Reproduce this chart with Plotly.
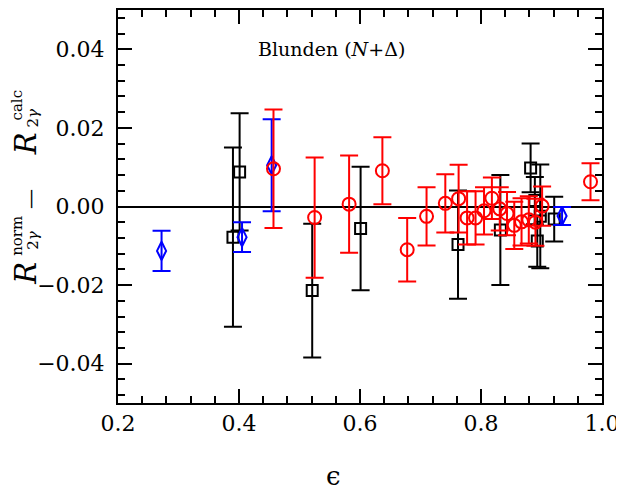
import plotly.graph_objects as go

# epsilon, residual and error for each data set
blue_eps = [0.272, 0.405, 0.454, 0.934]
blue_val = [-0.0113, -0.0078, 0.0105, -0.0024]
blue_err = [0.0051, 0.0038, 0.0117, 0.0023]

black_eps = [0.390, 0.401, 0.521, 0.601, 0.762, 0.832, 0.882, 0.889, 0.893, 0.898, 0.921]
black_val = [-0.0078, 0.0088, -0.0214, -0.0056, -0.0097, -0.0060, 0.0098, 0.0015, -0.0088, -0.0025, -0.0032]
black_err = [0.0228, 0.0149, 0.0170, 0.0157, 0.0138, 0.0140, 0.0062, 0.0060, 0.0065, 0.0132, 0.0057]

red_eps = [0.457, 0.525, 0.582, 0.637, 0.678, 0.710, 0.741, 0.763, 0.777, 0.791,
           0.805, 0.818, 0.831, 0.843, 0.855, 0.867, 0.879, 0.890, 0.901, 0.981]
red_val = [0.0096, -0.0028, 0.0006, 0.0091, -0.0110, -0.0025, 0.0008, 0.0020, -0.0029, -0.0029,
           -0.0011, 0.0021, -0.0006, -0.0018, -0.0048, -0.0039, -0.0034, -0.0040, 0.0001, 0.0063]
red_err = [0.0151, 0.0153, 0.0124, 0.0085, 0.0081, 0.0074, 0.0074, 0.0086, 0.0068, 0.0068,
           0.0060, 0.0053, 0.0055, 0.0055, 0.0060, 0.0060, 0.0060, 0.0060, 0.0050, 0.0047]

x_ticks = [0.2, 0.4, 0.6, 0.8, 1.0]
y_ticks = [-0.04, -0.02, 0.0, 0.02, 0.04]

# the page body has an 8px margin, so the figure is made smaller and
# everything is placed 8px up/left of where it sits in the reference
OFF = 8
W, H = 624 - OFF, 491 - OFF
ML, MR, MT, MB = 110, 22, 0, 88
FONT = "DejaVu Serif"


def px(x, y):
    # reference pixel position -> paper coordinates
    x, y = x - OFF, y - OFF
    return (x - ML) / (W - ML - MR), (H - MB - y) / (H - MT - MB)


def series(x, y, err, color, symbol, size):
    return go.Scatter(
        x=x, y=y, mode="markers",
        marker=dict(symbol=symbol, size=size, color=color, line=dict(color=color, width=2)),
        error_y=dict(type="data", array=err, color=color, thickness=2, width=9),
        showlegend=False,
    )


fig = go.Figure()
fig.add_trace(series(black_eps, black_val, black_err, "black", "square-open", 11))
fig.add_trace(series(blue_eps, blue_val, blue_err, "blue", "diamond-tall-open", 13))
fig.add_trace(series(red_eps, red_val, red_err, "red", "circle-open", 13))

axis_common = dict(
    showline=True, linecolor="black", linewidth=2, mirror="allticks",
    ticks="inside", ticklen=14, tickwidth=1.5, tickcolor="black",
    showgrid=False, tickfont=dict(family=FONT, size=22, color="black"),
)

fig.update_xaxes(
    range=[0.2, 1.0], tickvals=x_ticks, tickformat=".1f", zeroline=False,
    minor=dict(dtick=0.04, tick0=0.2, ticks="inside", ticklen=7, tickwidth=1.5, tickcolor="black"),
    ticklabelstandoff=0,
    **axis_common,
)
fig.update_yaxes(
    range=[-0.05, 0.05], tickvals=y_ticks, tickformat=".2f",
    zeroline=True, zerolinecolor="black", zerolinewidth=1.5,
    minor=dict(dtick=0.004, tick0=0, ticks="inside", ticklen=7, tickwidth=1.5, tickcolor="black"),
    ticklabelstandoff=7,
    **axis_common,
)

annotations = []


def label(text, x, y, size, angle=0):
    ax, ay = px(x, y)
    annotations.append(dict(
        text=text, x=ax, y=ay, xref="paper", yref="paper", showarrow=False,
        xanchor="center", yanchor="middle", textangle=angle,
        font=dict(family=FONT, size=size, color="black"),
    ))


label("Blunden (<i>N</i>+Δ)", 331, 47, 19)
label("ϵ", 333, 476, 26)

# y title: R^norm_2γ − R^calc_2γ with stacked scripts
label("<i>R</i>", 26, 273, 29, -90)
label("norm", 17, 235, 15, -90)
label("2<i>γ</i>", 33, 240, 15, -90)
label("—", 30, 198, 20, -90)
label("<i>R</i>", 26, 143, 29, -90)
label("calc", 17, 104, 15, -90)
label("2<i>γ</i>", 33, 117, 15, -90)

fig.update_layout(
    width=W, height=H,
    margin=dict(l=ML, r=MR, t=MT, b=MB),
    paper_bgcolor="white", plot_bgcolor="white",
    annotations=annotations,
)

fig.write_html("out.html")
